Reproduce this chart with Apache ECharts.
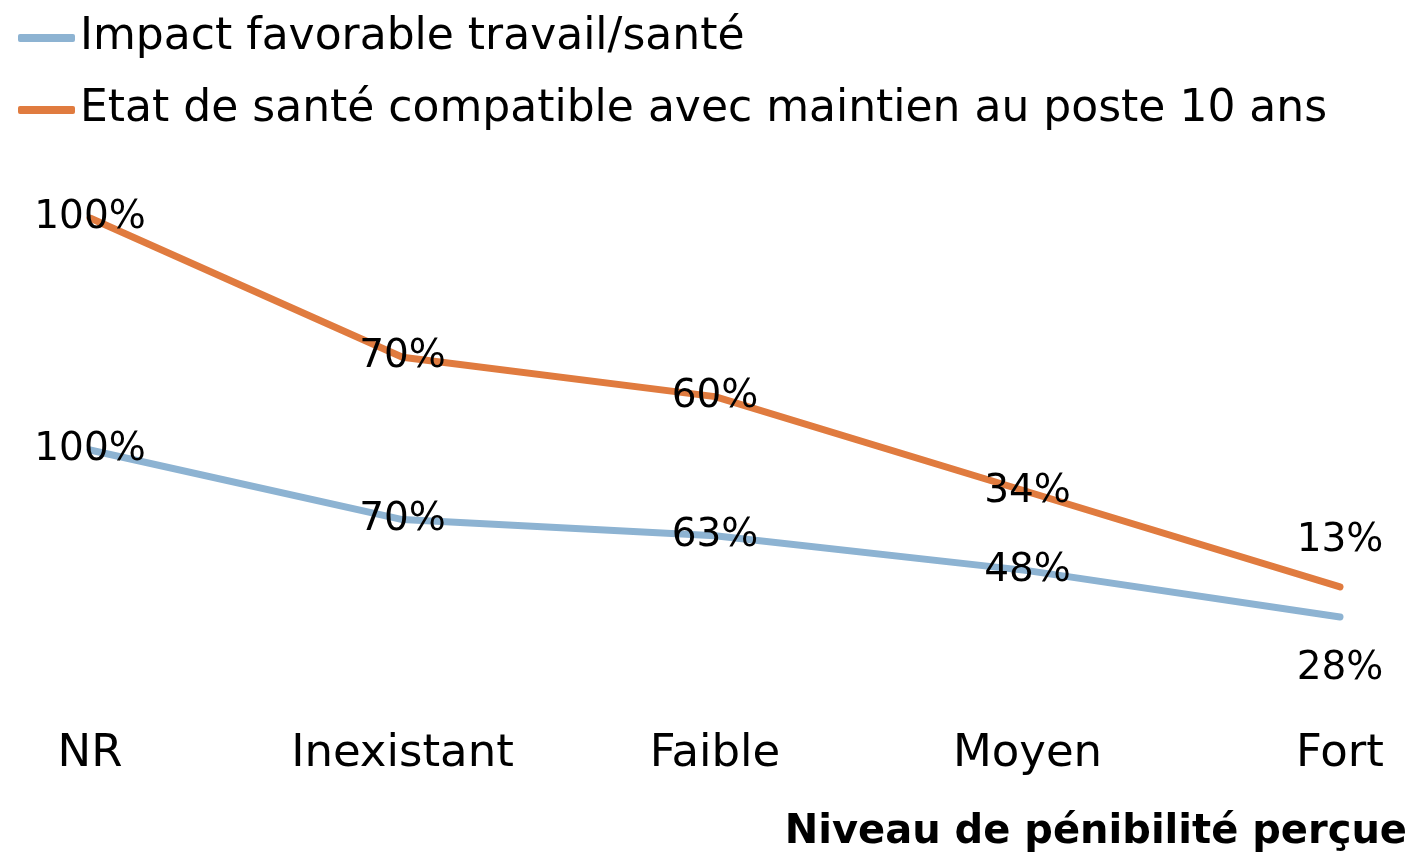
<!DOCTYPE html>
<html>
<head>
<meta charset="utf-8">
<script src="https://cdn.jsdelivr.net/npm/echarts@6/dist/echarts.min.js"></script>
<style>
  html, body { margin: 0; padding: 0; background: #fff; }
  #chart { width: 1418px; height: 863px; }
</style>
</head>
<body>
<div id="chart"></div>
<script>
// niveaux de pénibilité
var categories = ['NR', 'Inexistant', 'Faible', 'Moyen', 'Fort'];
var impactFavorable = [100, 70, 63, 48, 28];
var etatCompatible = [100, 70, 60, 34, 13];
var seriesNames = ['Impact favorable travail/santé', 'Etat de santé compatible avec maintien au poste 10 ans'];
var axisTitle = 'Niveau de pénibilité perçue';

var font = 'DejaVu Sans';
var blue = '#8db3d2';
var orange = '#e07b3f';

// last point labels sit outside the line, others are centred on it
function withLabels(values, lastPos, lastDist) {
  return values.map(function (v, i) {
    if (i === values.length - 1) {
      return { value: v, label: { position: lastPos, distance: lastDist } };
    }
    return v;
  });
}

var chart = echarts.init(document.getElementById('chart'));

var lineSeries = function (name, color, data) {
  return {
    name: name,
    type: 'line',
    stack: 'total',
    data: data,
    symbol: 'circle',
    symbolSize: 1,
    itemStyle: { color: color },
    lineStyle: { color: color, width: 7, cap: 'round', join: 'round' },
    label: {
      show: true,
      position: 'inside',
      formatter: '{c}%',
      color: '#000',
      fontFamily: font,
      fontSize: 39
    },
    emphasis: { disabled: true },
    animation: false
  };
};

chart.setOption({
  backgroundColor: '#fff',
  title: {
    text: axisTitle,
    right: 6,
    top: 808,
    textStyle: { fontFamily: font, fontSize: 40, fontWeight: 'bold', color: '#000' }
  },
  legend: {
    orient: 'vertical',
    left: 13,
    top: 8,
    itemWidth: 57,
    itemHeight: 8,
    itemGap: 22,
    icon: 'roundRect',
    data: seriesNames,
    textStyle: { fontFamily: font, fontSize: 44, color: '#000', lineHeight: 50 }
  },
  grid: { left: 90, right: 78, top: 218, bottom: 181 },
  xAxis: {
    type: 'category',
    data: categories,
    boundaryGap: false,
    axisLine: { show: false },
    axisTick: { show: false },
    axisLabel: { fontFamily: font, fontSize: 45, color: '#000', margin: 50 }
  },
  yAxis: {
    type: 'value',
    min: 0,
    max: 200,
    show: false
  },
  series: [
    lineSeries(seriesNames[0], blue, withLabels(impactFavorable, 'bottom', 32)),
    lineSeries(seriesNames[1], orange, withLabels(etatCompatible, 'top', 26))
  ]
});
</script>
</body>
</html>
